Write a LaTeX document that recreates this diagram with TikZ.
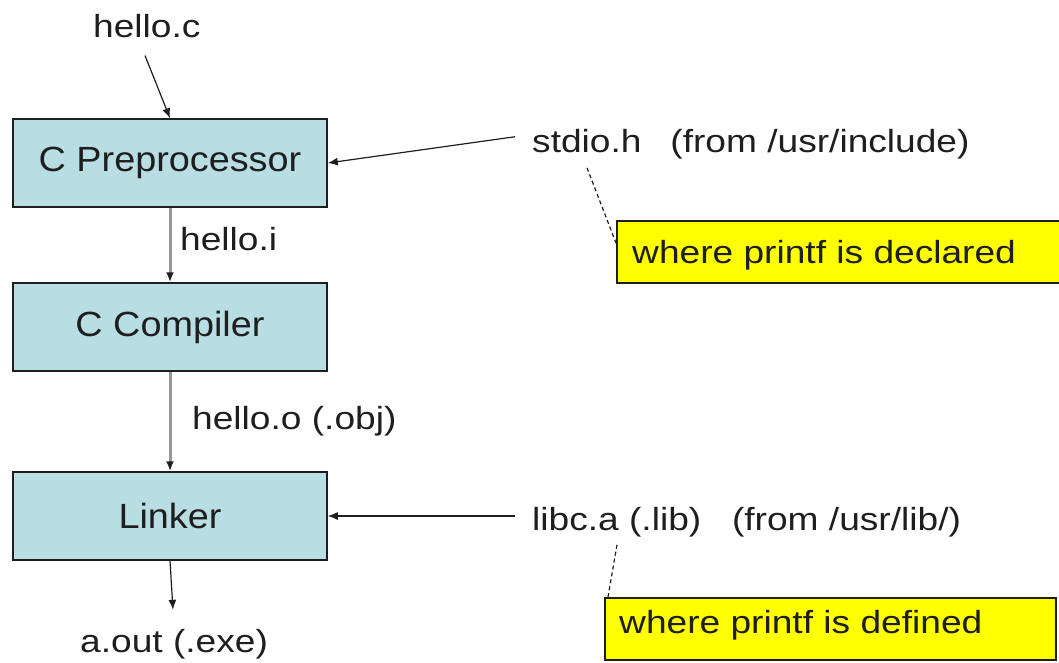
\documentclass[tikz,border=0pt]{standalone}
\usepackage{fontspec}
\setmainfont{Liberation Sans}
\usepackage{graphicx}
\usetikzlibrary{arrows.meta,calc}
\definecolor{boxfill}{RGB}{184,222,228}
\definecolor{ink}{RGB}{30,30,30}
\definecolor{flowgray}{RGB}{150,150,150}
\definecolor{noteyellow}{RGB}{255,255,0}
\newcommand{\lbltext}[1]{\scalebox{1.16}[1]{\fontsize{32}{38}\selectfont #1}}
\newcommand{\stagetext}[1]{\scalebox{1.08}[1]{\fontsize{35}{40}\selectfont #1}}
\begin{document}
\begin{tikzpicture}[x=1pt,y=-1pt,
  stage/.style={draw=ink, line width=1.5pt, fill=boxfill, minimum width=314pt, minimum height=88pt, inner sep=0pt, text=ink},
  lbl/.style={inner sep=0pt, anchor=base west, text=ink},
  note/.style={draw=ink, line width=1.5pt, fill=noteyellow, minimum height=62pt, anchor=north west, inner sep=0pt},
  arr/.style={-{Latex[length=10pt,width=8pt]}, line width=1.2pt, draw=ink},
  flow/.style={-{Latex[length=10pt,width=8pt,color=ink]}, line width=3pt, draw=flowgray},
  tether/.style={dash pattern=on 4pt off 3pt, line width=1.2pt, draw=ink}]
\useasboundingbox (0,0) rectangle (1059,662);

\node[stage] (pre) at (170,163) {\stagetext{C Preprocessor}};
\node[stage] (comp) at (170,327) {\stagetext{C Compiler}};
\node[stage] (lnk) at (170,516) {\stagetext{Linker}};

\node[lbl] (hc) at (93,37) {\lbltext{hello.c}};
\node[lbl] (hi) at (180,250) {\lbltext{hello.i}};
\node[lbl] (ho) at (192,429) {\lbltext{hello.o (.obj)}};
\node[lbl] (aout) at (80,652) {\lbltext{a.out (.exe)}};
\node[lbl] (stdio) at (532,152) {\lbltext{stdio.h\hspace{0.5em} (from /usr/include)}};
\node[lbl] (libc) at (532,530) {\lbltext{libc.a (.lib)\hspace{0.55em} (from /usr/lib/)}};

\node[note, minimum width=460pt] (decl) at (616,220) {};
\node[lbl] (decltext) at (632,263) {\lbltext{where printf is declared}};
\node[note, minimum width=451pt] (def) at (604,597) {};
\node[lbl] (deftext) at (619,633) {\lbltext{where printf is defined}};

\draw[arr] ($(hc.south west)+(52,18)$) -- (pre.north);
\draw[flow] (pre.south) -- (comp.north);
\draw[flow] (comp.south) -- (lnk.north);
\draw[arr] (lnk.south) -- ($(aout.south west)+(93,-49)$);
\draw[arr] ($(stdio.west)+(-17,-7)$) -- (pre.east);
\draw[arr] ($(libc.west |- lnk.east)+(-17,0)$) -- (lnk.east);
\draw[tether] ($(stdio.south west)+(55,9)$) -- ($(decl.north west)+(0,23)$);
\draw[tether] ($(libc.south west)+(85,8)$) -- ($(def.north west)+(4,0)$);
\end{tikzpicture}
\end{document}
